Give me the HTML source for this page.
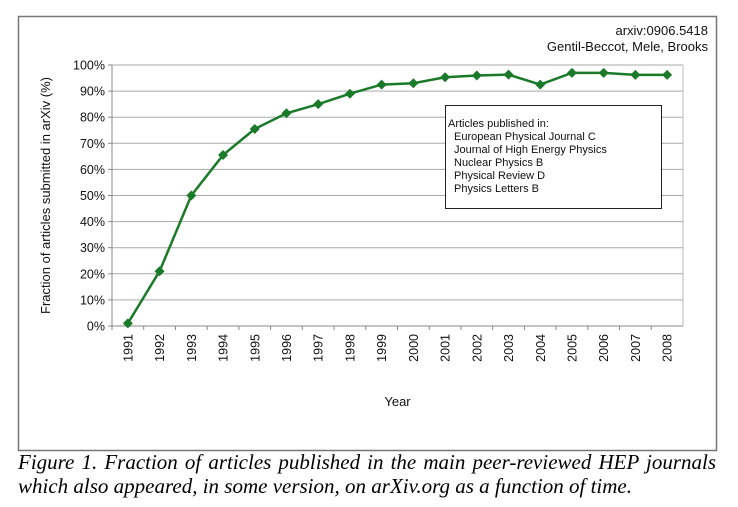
<!DOCTYPE html>
<html><head><meta charset="utf-8"><style>
body{margin:0;background:#fff;width:738px;height:507px;overflow:hidden;font-family:"Liberation Sans",sans-serif}
#cap{position:absolute;left:18px;top:450px;width:698px;font:italic 21px "Liberation Serif",serif;line-height:24px;color:#000}
#cap .l1{text-align:justify;text-align-last:justify;display:block}
</style></head><body>
<svg id="chart" width="738" height="507" style="position:absolute;left:0;top:0" font-family="Liberation Sans, sans-serif"></svg>
<div id="cap"><div class="l1">Figure 1. Fraction of articles published in the main peer-reviewed HEP journals</div><div style="white-space:nowrap">which also appeared, in some version, on arXiv.org as a function of time.</div></div>
<script>
const years=["1991","1992","1993","1994","1995","1996","1997","1998","1999","2000","2001","2002","2003","2004","2005","2006","2007","2008"];
const fractions=[1,21,50,65.5,75.5,81.5,85,89,92.5,93,95.3,96,96.3,92.5,97,97,96.2,96.2];
const yTicks=[0,10,20,30,40,50,60,70,80,90,100];
const legendLines=["European Physical Journal C","Journal of High Energy Physics","Nuclear Physics B","Physical Review D","Physics Letters B"];
const NS="http://www.w3.org/2000/svg";
const svg=document.getElementById('chart');
const L=112,R=683,T=65,B=326;
const bw=(R-L)/years.length;
const x=i=>L+bw*(i+0.5);
const y=v=>B-(v/100)*(B-T);
function mk(tag,attrs,parent){const e=document.createElementNS(NS,tag);for(const k in attrs)e.setAttribute(k,attrs[k]);(parent||svg).appendChild(e);return e;}
let e;
e=mk('rect',{x:18.5,y:16.5,width:698,height:434,fill:'none',stroke:'#777','stroke-width':1.5});


e=mk('text',{x:708,y:35,'text-anchor':'end','font-size':13,fill:'#111'});e.textContent='arxiv:0906.5418';


e=mk('text',{x:708,y:51,'text-anchor':'end','font-size':13,fill:'#111'});e.textContent='Gentil-Beccot, Mele, Brooks';


yTicks.forEach(t=>{
 e=mk('line',{x1:L,x2:R,y1:y(t),y2:y(t),stroke:'#aaa','stroke-width':1});
 
 
 mk('line',{x1:L-4,x2:L,y1:y(t),y2:y(t),stroke:'#888'});
 e=mk('text',{x:L-7,y:y(t)+4.5,'text-anchor':'end','font-size':12.5,fill:'#111'});e.textContent=t+'%';
 
 
});
mk('line',{x1:R,x2:R,y1:T,y2:B,stroke:'#bbb'});
e=mk('line',{x1:L,x2:L,y1:T,y2:B,stroke:'#888'});


e=mk('line',{x1:L,x2:R,y1:B,y2:B,stroke:'#888'});


years.forEach((yr,i)=>{
 mk('line',{x1:L+bw*i,x2:L+bw*i,y1:B,y2:B+4,stroke:'#888'});
 e=mk('text',{x:0,y:0,'text-anchor':'end','font-size':12.5,fill:'#111',transform:`translate(${x(i)+4.5},${B+8}) rotate(-90)`});e.textContent=yr;
 
 
});
e=mk('text',{x:(L+R)/2,y:406,'text-anchor':'middle','font-size':13,fill:'#111'});e.textContent='Year';


e=mk('text',{x:0,y:0,'text-anchor':'middle','font-size':13,fill:'#111',transform:`translate(50,${(T+B)/2}) rotate(-90)`});e.textContent='Fraction of articles submitted in arXiv (%)';


e=mk('polyline',{points:fractions.map((v,i)=>x(i)+','+y(v)).join(' '),fill:'none',stroke:'#1a7a2a','stroke-width':2.5});


fractions.forEach((v,i)=>{
 e=mk('polygon',{points:`${x(i)},${y(v)-5} ${x(i)+5},${y(v)} ${x(i)},${y(v)+5} ${x(i)-5},${y(v)}`,fill:'#1a7a2a'});
 
 
});
const lg=mk('g',{});


mk('rect',{x:445.5,y:105.5,width:216,height:103,fill:'#fff',stroke:'#222'},lg);
e=mk('text',{x:448,y:127,'font-size':11,fill:'#111'},lg);e.textContent='Articles published in:';
legendLines.forEach((s,i)=>{
 e=mk('text',{x:454,y:140+i*13,'font-size':11,fill:'#111'},lg);e.textContent=s;
 
 
});
</script>
</body></html>
